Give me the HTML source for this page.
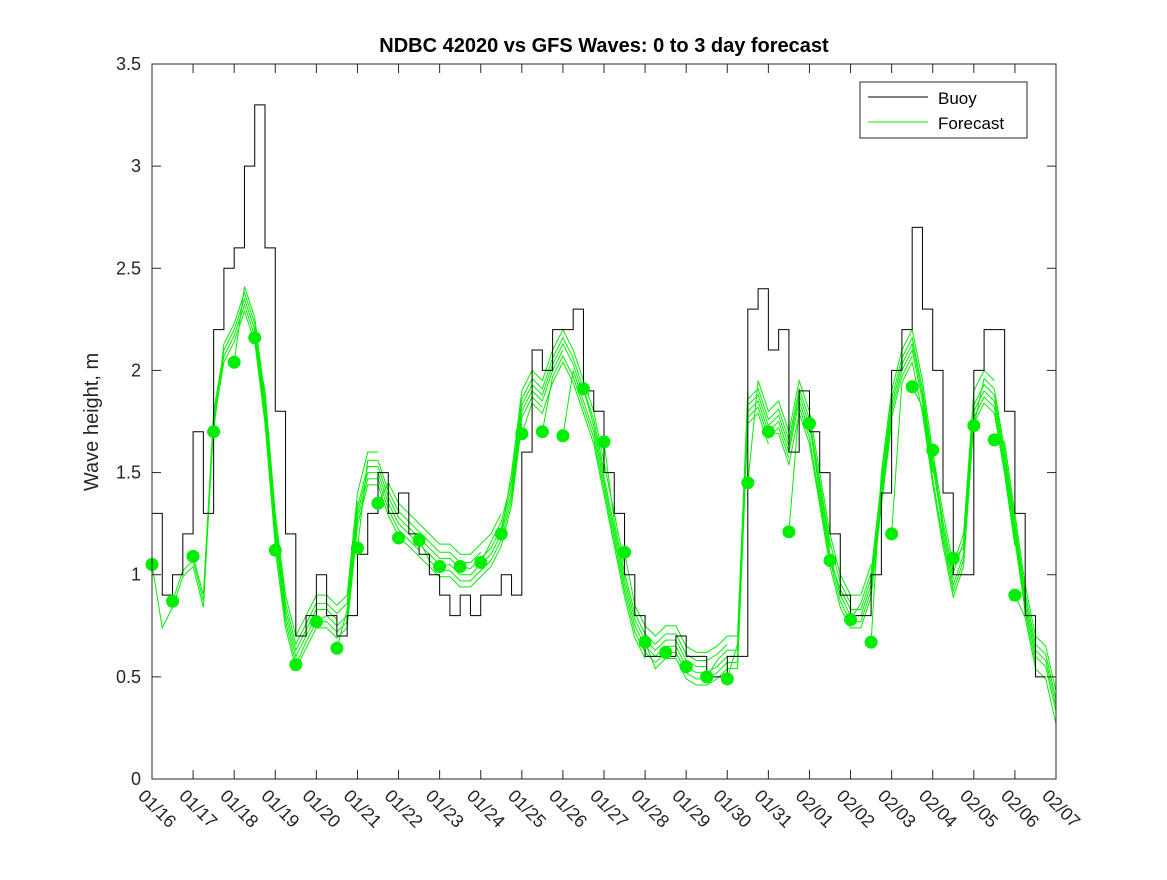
<!DOCTYPE html>
<html><head><meta charset="utf-8"><style>
body{margin:0;background:#fff;}
svg text{font-family:"Liberation Sans",sans-serif;}
</style></head><body>
<svg id="chart" width="1167" height="875" xmlns="http://www.w3.org/2000/svg">
<rect width="1167" height="875" fill="#fff"/>
<text x="604" y="52" text-anchor="middle" font-size="20" font-weight="bold" fill="#000">NDBC 42020 vs GFS Waves: 0 to 3 day forecast</text>
<text transform="translate(98,422) rotate(-90)" text-anchor="middle" font-size="20" fill="#262626">Wave height, m</text>
<g id="grid"></g>
<g id="fc"></g>
<g id="buoy"></g>
<g id="dots"></g>
<rect x="152" y="64" width="904" height="715" fill="none" stroke="#262626" stroke-width="1"/>
<g id="ticks"></g>
<g>
<rect x="860" y="82" width="167" height="56" fill="#fff" stroke="#262626"/>
<line x1="868" y1="97" x2="928" y2="97" stroke="#000"/>
<text x="938" y="104" font-size="17" fill="#000">Buoy</text>
<line x1="868" y1="122" x2="928" y2="122" stroke="#00ee00"/>
<text x="938" y="129" font-size="17" fill="#000">Forecast</text>
</g>
</svg>
<script>
const xTickLabels=["01/16","01/17","01/18","01/19","01/20","01/21","01/22","01/23","01/24","01/25","01/26","01/27","01/28","01/29","01/30","01/31","02/01","02/02","02/03","02/04","02/05","02/06","02/07"];
const yTicks=[0,0.5,1,1.5,2,2.5,3,3.5];
const buoyStart=16;
const buoy=[1.3,0.9,1.0,1.2,1.7,1.3,2.2,2.5,2.6,3.0,3.3,2.6,1.8,1.2,0.7,0.8,1.0,0.8,0.7,0.8,1.1,1.3,1.5,1.3,1.4,1.2,1.1,1.0,0.9,0.8,0.9,0.8,0.9,0.9,1.0,0.9,1.6,2.1,2.0,2.2,2.2,2.3,1.9,1.8,1.5,1.3,1.0,0.8,0.6,0.6,0.6,0.7,0.6,0.6,0.5,0.5,0.6,0.6,2.3,2.4,2.1,2.2,1.6,1.9,1.7,1.5,1.2,0.9,0.8,0.8,1.0,1.4,2.0,2.2,2.7,2.3,2.0,1.4,1.0,1.0,2.0,2.2,2.2,1.8,1.3,0.8,0.5];
const forecast=[1.0,0.8,0.9,1.05,1.1,0.9,1.8,2.1,2.2,2.35,2.2,1.8,1.2,0.8,0.6,0.7,0.8,0.8,0.75,0.8,1.3,1.5,1.5,1.35,1.25,1.2,1.15,1.1,1.05,1.05,1.0,1.0,1.05,1.1,1.2,1.4,1.8,1.9,1.85,2.0,2.1,2.0,1.85,1.7,1.45,1.2,0.95,0.75,0.65,0.6,0.65,0.65,0.55,0.52,0.52,0.55,0.6,0.6,1.8,1.85,1.7,1.75,1.6,1.85,1.7,1.4,1.1,0.9,0.8,0.8,0.95,1.4,1.8,2.0,2.1,1.85,1.5,1.2,0.95,1.1,1.8,1.9,1.85,1.55,1.2,0.85,0.6,0.55,0.33];
const runBias=[-0.06,-0.03,0,0.03,0.06,0.1];
const dotValues=[1.05,0.87,1.09,1.70,2.04,2.16,1.12,0.56,0.77,0.64,1.13,1.35,1.18,1.17,1.04,1.04,1.06,1.20,1.69,1.70,1.68,1.91,1.65,1.11,0.67,0.62,0.55,0.50,0.49,1.45,1.70,1.21,1.74,1.07,0.78,0.67,1.20,1.92,1.61,1.08,1.73,1.66,0.90];
const X=d=>152+(d-16)*904/22;
const Y=v=>779-v*715/3.5;
const NS="http://www.w3.org/2000/svg";
function mk(tag,attrs,parent){const e=document.createElementNS(NS,tag);for(const k in attrs)e.setAttribute(k,attrs[k]);parent.appendChild(e);return e;}
const ticks=document.getElementById('ticks');
xTickLabels.forEach((t,i)=>{const x=X(16+i);
 const l=mk('line',{x1:x,y1:779,x2:x,y2:770,stroke:'#262626'},ticks);
 
 
 const l2=mk('line',{x1:x,y1:64,x2:x,y2:73,stroke:'#262626'},ticks);
 
 
 const tx=mk('text',{transform:`translate(${x-15},${797}) rotate(45)`,'font-size':18,fill:'#262626'},ticks);
 tx.textContent=t;
 
 
});
yTicks.forEach(v=>{const y=Y(v);
 const l=mk('line',{x1:152,y1:y,x2:161,y2:y,stroke:'#262626'},ticks);
 
 
 const l2=mk('line',{x1:1056,y1:y,x2:1047,y2:y,stroke:'#262626'},ticks);
 
 
 const tx=mk('text',{x:141,y:y+6,'text-anchor':'end','font-size':18,fill:'#262626'},ticks);
 tx.textContent=String(v);
 
 
});
const fc=document.getElementById('fc');
dotValues.forEach((dv,i)=>{const s=i*2;
 const b=runBias[i%runBias.length];
 let pts=[[X(16+s*0.25),Y(dv)]];
 for(let k=s+1;k<=Math.min(s+12,forecast.length-1);k++)pts.push([X(16+k*0.25),Y(forecast[k]+b)]);
 const p=mk('polyline',{points:pts.map(p=>p.join(',')).join(' '),fill:'none',stroke:'#00ee00','stroke-width':1},fc);
 
 
});
const bg=document.getElementById('buoy');
let bp=[];buoy.forEach((v,i)=>{const x0=X(buoyStart+i*0.25),x1=X(buoyStart+(i+1)*0.25);bp.push([x0,Y(v)],[x1,Y(v)]);});
const bl=mk('polyline',{points:bp.map(p=>p.join(',')).join(' '),fill:'none',stroke:'#000','stroke-width':1},bg);


const dg=document.getElementById('dots');
dotValues.forEach((v,i)=>{const c=mk('circle',{cx:X(16+i*0.5),cy:Y(v),r:6.5,fill:'#00ee00'},dg);
 
 
});
</script>
</body></html>
